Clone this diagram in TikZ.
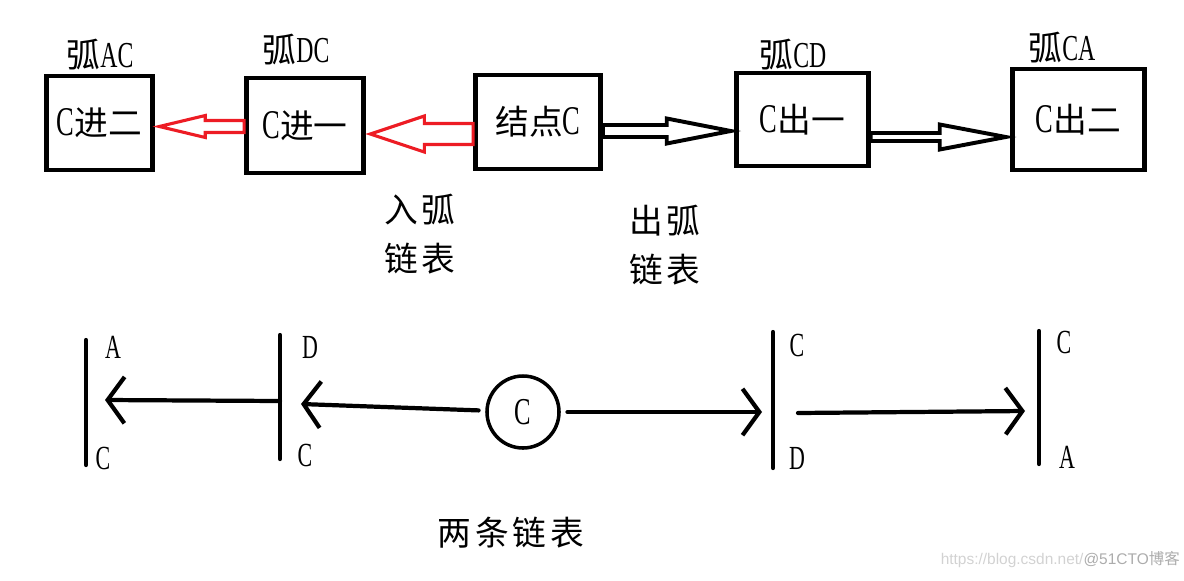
\documentclass[tikz,border=0pt]{standalone}
\usepackage{fontspec}
\setmainfont[FakeStretch=0.65]{Liberation Serif}
\newfontfamily\cjk{Noto Sans CJK SC}
\newfontfamily\cjkwide[LetterSpace=12]{Noto Sans CJK SC}
\newfontfamily\wmfont{Liberation Sans}
\usetikzlibrary{calc,arrows.meta}
\definecolor{paintred}{RGB}{237,28,36}

\newcommand{\lat}[2][29]{{\fontsize{#1}{#1}\selectfont #2}}
\newcommand{\han}[1]{{\cjk\fontsize{24}{28}\selectfont #1}}
\newcommand{\hollowarrow}[6][]{%
  \draw[#1] ($(#2 |- #3)+(0,-#4)$) -- ($(#3)+(#6,-#4)$) -- ($(#3)+(#6,-#5)$) --
    (#3) -- ($(#3)+(#6,#5)$) -- ($(#3)+(#6,#4)$) -- ($(#2 |- #3)+(0,#4)$) -- cycle;}

\tikzset{
  box/.style = {draw, line width=3.2pt, inner sep=0},
  arclabel/.style = {inner sep=0},
  redarrow/.style = {draw=paintred, line width=2.2pt, fill=white},
  blackarrow/.style = {draw=black, line width=2.8pt, fill=white},
  bar/.style = {line width=3pt, line cap=round},
  link/.style = {line width=3pt, line cap=round, -{Straight Barb[length=12pt,width=33pt]}},
  endlabel/.style = {font=\fontsize{24}{24}\selectfont, inner sep=0},
  listlabel/.style = {font=\cjkwide\fontsize{24}{35}\selectfont, align=center, inner sep=0}
}

\begin{document}
\begin{tikzpicture}[x=0.025cm, y=-0.025cm]
		\useasboundingbox (0,0) rectangle (1184,580);
		\node[box, minimum width=2.65cm, minimum height=2.35cm] (in2) at (99.5,123) {\lat{C}\han{进二}};
		\node[box, minimum width=2.93cm, minimum height=2.38cm] (in1) at (305,125.5) {\lat{C}\han{进一}};
		\node[box, minimum width=3.13cm, minimum height=2.35cm] (vc) at (538,122) {\han{结点}\lat{C}};
		\node[box, minimum width=3.3cm, minimum height=2.33cm] (out1) at (802.5,119.5) {\lat{C}\han{出一}};
		\node[box, minimum width=3.3cm, minimum height=2.53cm] (out2) at (1078.5,119.5) {\lat{C}\han{出二}};
		\node[arclabel] (l-ac) at (100,55) {\han{弧}\lat[26]{AC}};
		\node[arclabel] (l-dc) at (296,50) {\han{弧}\lat[26]{DC}};
		\node[arclabel] (l-cd) at (793,55) {\han{弧}\lat[26]{CD}};
		\node[arclabel] (l-ca) at (1062,48) {\han{弧}\lat[26]{CA}};
		\coordinate (t1) at ([shift={(4.5,3.5)}]in2.east);
		\coordinate (t2) at ([shift={(4.5,8.5)}]in1.east);
		\coordinate (t3) at ([shift={(-3.5,11.5)}]out1.west);
		\coordinate (t4) at ([shift={(-4.5,17.5)}]out2.west);
		\hollowarrow[redarrow]{in1.west}{t1}{6}{11}{46}
		\hollowarrow[redarrow]{vc.west}{t2}{10.5}{18}{54}
		\hollowarrow[blackarrow]{vc.east}{t3}{6}{12.5}{-64}
		\hollowarrow[blackarrow]{out1.east}{t4}{4}{12.5}{-66}
		\node[listlabel] (inlist) at (420,234) {入弧\\链表};
		\node[listlabel] (outlist) at (665,245) {出弧\\链表};

		\coordinate (b1t) at (86,340);  \coordinate (b1b) at (86,465);
		\coordinate (b2t) at (280,335); \coordinate (b2b) at (280,459);
		\coordinate (b3t) at (773,332); \coordinate (b3b) at (773,468);
		\coordinate (b4t) at (1039,331); \coordinate (b4b) at (1039,464);
		\foreach \b in {1,...,4}
			\draw[bar] (b\b t) -- (b\b b);
		\node[endlabel] (n1a) at (113,347) {A};
		\node[endlabel] (n1c) at (103,458) {C};
		\node[endlabel] (n2d) at (310,347) {D};
		\node[endlabel] (n2c) at (305,455) {C};
		\node[endlabel] (n3c) at (797,345) {C};
		\node[endlabel] (n3d) at (797,458) {D};
		\node[endlabel] (n4c) at (1064,342) {C};
		\node[endlabel] (n4a) at (1067,457) {A};
		\node[circle, draw, line width=2.5pt, minimum size=1.8cm, inner sep=0, outer sep=6pt] (vc2) at (523,412) {\lat[27]{C}};
		\coordinate (s1) at (280,401); \coordinate (e1) at (105,400);
		\coordinate (e2) at (301,404);
		\coordinate (e3) at (762,412);
		\coordinate (s4) at (798,413); \coordinate (e4) at (1025,411);
		\draw[link] (s1) -- (e1);
		\draw[link] (vc2) -- (e2);
		\draw[link] (vc2) -- (e3);
		\draw[link] (s4) -- (e4);
		\node[listlabel] (both) at (511,533) {两条链表};
		\node[anchor=east, inner sep=0, font=\wmfont\fontsize{11}{11}\selectfont] (wm) at (1180,560)
			{\textcolor{gray!35}{https://blog.csdn.net/}\textcolor{gray!65}{@51CTO{\cjk 博客}}};
	\end{tikzpicture}
\end{document}
